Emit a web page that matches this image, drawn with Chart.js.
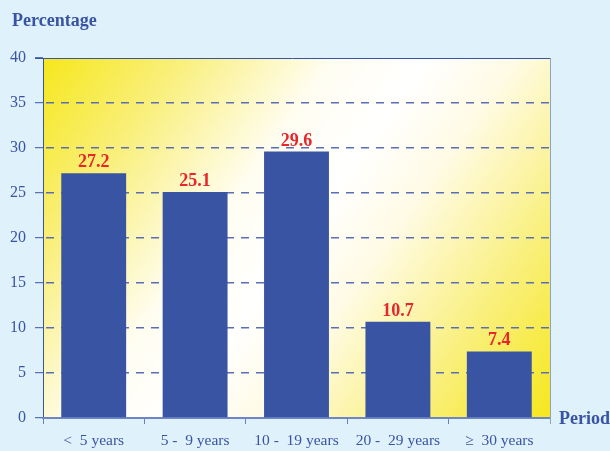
<!DOCTYPE html>
<html>
<head>
<meta charset="utf-8">
<script src="https://cdn.jsdelivr.net/npm/chart.js@4/dist/chart.umd.min.js"></script>
<style>
  html, body { margin: 0; padding: 0; background: #dff1fa; }
  #wrap { width: 610px; height: 451px; position: relative; }
</style>
</head>
<body>
<div id="wrap"><canvas id="periodChart"></canvas></div>
<script>
const periods = ['<  5 years', '5 -  9 years', '10 -  19 years', '20 -  29 years', '\u2265  30 years'];
const percentages = [27.2, 25.1, 29.6, 10.7, 7.4];
const yTicks = [0, 5, 10, 15, 20, 25, 30, 35, 40];

const blue = '#3a54a4';
const serif = '"Liberation Serif", "Times New Roman", serif';

// fundo amarelo/branco da área do gráfico
const fundoPlugin = {
    id: 'fundo',
    beforeDraw(chart) {
        const { ctx, chartArea: a } = chart;
        const g = ctx.createLinearGradient(a.left, a.top, a.right, a.bottom);
        g.addColorStop(0, '#f6e71c');
        g.addColorStop(0.18, '#f9ef7a');
        g.addColorStop(0.38, '#fffdf0');
        g.addColorStop(0.5, '#ffffff');
        g.addColorStop(0.62, '#fffbe6');
        g.addColorStop(0.82, '#f9ef7a');
        g.addColorStop(1, '#f6e71c');
        ctx.save();
        ctx.fillStyle = g;
        ctx.fillRect(a.left, a.top, a.right - a.left, a.bottom - a.top);
        ctx.restore();
    }
};

// textos: títulos dos eixos e valores das barras
const textosPlugin = {
    id: 'textos',
    afterDraw(chart) {
        const { ctx, chartArea: a } = chart;
        ctx.save();
        // borda direita clara e linha superior
        ctx.strokeStyle = '#8fa3c8';
        ctx.lineWidth = 1;
        ctx.beginPath();
        ctx.moveTo(a.right + 0.5, a.top);
        ctx.lineTo(a.right + 0.5, a.bottom + 6);
        ctx.stroke();
        ctx.strokeStyle = blue;
        ctx.beginPath();
        ctx.moveTo(a.left - 8, a.top + 0.5);
        ctx.lineTo(a.right, a.top + 0.5);
        ctx.stroke();

        ctx.fillStyle = blue;
        ctx.font = 'bold 18px ' + serif;
        ctx.textBaseline = 'middle';
        ctx.textAlign = 'left';
        ctx.fillText('Percentage', 12, 21);
        ctx.fillText('Period', a.right + 9, a.bottom + 1);

        ctx.fillStyle = '#e8262b';
        ctx.font = 'bold 18px ' + serif;
        ctx.textAlign = 'center';
        ctx.textBaseline = 'alphabetic';
        chart.getDatasetMeta(0).data.forEach((bar, i) => {
            ctx.fillText(percentages[i].toFixed(1), bar.x, bar.y - 6);
        });
        ctx.restore();
    }
};

new Chart(document.getElementById('periodChart'), {
    type: 'bar',
    data: {
        labels: periods,
        datasets: [{
            data: percentages,
            backgroundColor: blue,
            barPercentage: 0.64,
            categoryPercentage: 1
        }]
    },
    options: {
        responsive: true,
        maintainAspectRatio: false,
        animation: false,
        layout: { padding: { left: 0, top: 58, right: 60, bottom: 0 } },
        plugins: {
            legend: { display: false },
            tooltip: { enabled: false }
        },
        scales: {
            y: {
                min: 0,
                max: 40,
                afterFit(scale) { scale.width = 43; },
                afterBuildTicks(scale) { scale.ticks = yTicks.map(v => ({ value: v })); },
                ticks: {
                    color: blue,
                    font: { family: serif, size: 16 },
                    padding: 9
                },
                grid: {
                    // sem linha tracejada no 0 e no 40 (eixo e borda superior)
                    color: c => (c.tick && (c.tick.value === 0 || c.tick.value === 40)) ? 'rgba(0,0,0,0)' : '#5a6eb5',
                    lineWidth: 1.4,
                    tickLength: 8,
                    tickColor: blue,
                    tickWidth: 1,
                    tickBorderDash: [],
                    tickBorderDashOffset: 0
                },
                border: { display: true, color: blue, width: 1, dash: [8, 7], dashOffset: 13 }
            },
            x: {
                afterFit(scale) { scale.height = 33; },
                ticks: {
                    color: blue,
                    font: { family: serif, size: 15.5 },
                    padding: 8
                },
                grid: {
                    offset: true,
                    drawOnChartArea: false,
                    tickLength: 6,
                    color: '#6a80c0'
                },
                border: { display: true, color: '#6f86c6', width: 2 }
            }
        }
    },
    plugins: [fundoPlugin, textosPlugin]
});
</script>
</body>
</html>
